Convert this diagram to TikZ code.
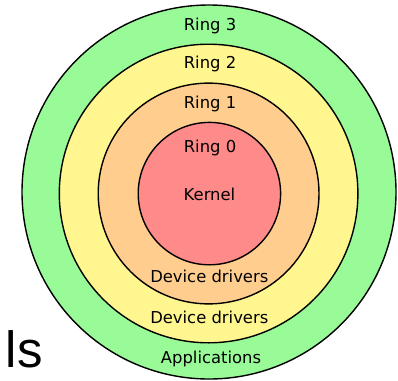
\documentclass[tikz,border=0pt]{standalone}
\usepackage{fontspec}
\setmainfont{DejaVu Sans}
\newfontfamily\bigsans{Liberation Sans}
\definecolor{ringthree}{RGB}{152,251,152}
\definecolor{ringtwo}{RGB}{255,246,143}
\definecolor{ringone}{RGB}{255,206,142}
\definecolor{ringzero}{RGB}{255,138,138}
\begin{document}
\begin{tikzpicture}[x=1pt,y=-1pt,
  ring/.style={draw=black,line width=1.4pt},
  lbl/.style={anchor=base,inner sep=0pt,text=black,font=\fontsize{16.4}{20}\selectfont},
  big/.style={inner sep=0pt,text=black,font=\bigsans\fontsize{51}{60}\selectfont}]
\clip (0,0) rectangle (398,380);
\useasboundingbox (0,0) rectangle (398,380);
\fill[white] (0,0) rectangle (398,380);
\draw[ring,fill=ringthree] (209,192) circle[radius=187];
\draw[ring,fill=ringtwo] (208.6,193.5) circle[radius=149.3];
\draw[ring,fill=ringone] (208.6,193.5) circle[radius=110.4];
\draw[ring,fill=ringzero] (209.4,193.6) circle[radius=71.2];
\node[lbl] (r3) at (210,30) {Ring 3};
\node[lbl] (r2) at (210,68.3) {Ring 2};
\node[lbl] (r1) at (210,108.3) {Ring 1};
\node[lbl] (r0) at (210,152.3) {Ring 0};
\node[lbl] (kern) at (209.5,200) {Kernel};
\node[lbl] (dd1) at (209.3,282.3) {Device drivers};
\node[lbl] (dd2) at (209.3,323.3) {Device drivers};
\node[lbl] (apps) at (211,363.3) {Applications};
\node[big,anchor=base east] (ttl) at (42.8,367.7) {ls};
\node[big,anchor=base east] (ttle) at ([xshift=-6pt]ttl.base west) {e};
\end{tikzpicture}
\end{document}
